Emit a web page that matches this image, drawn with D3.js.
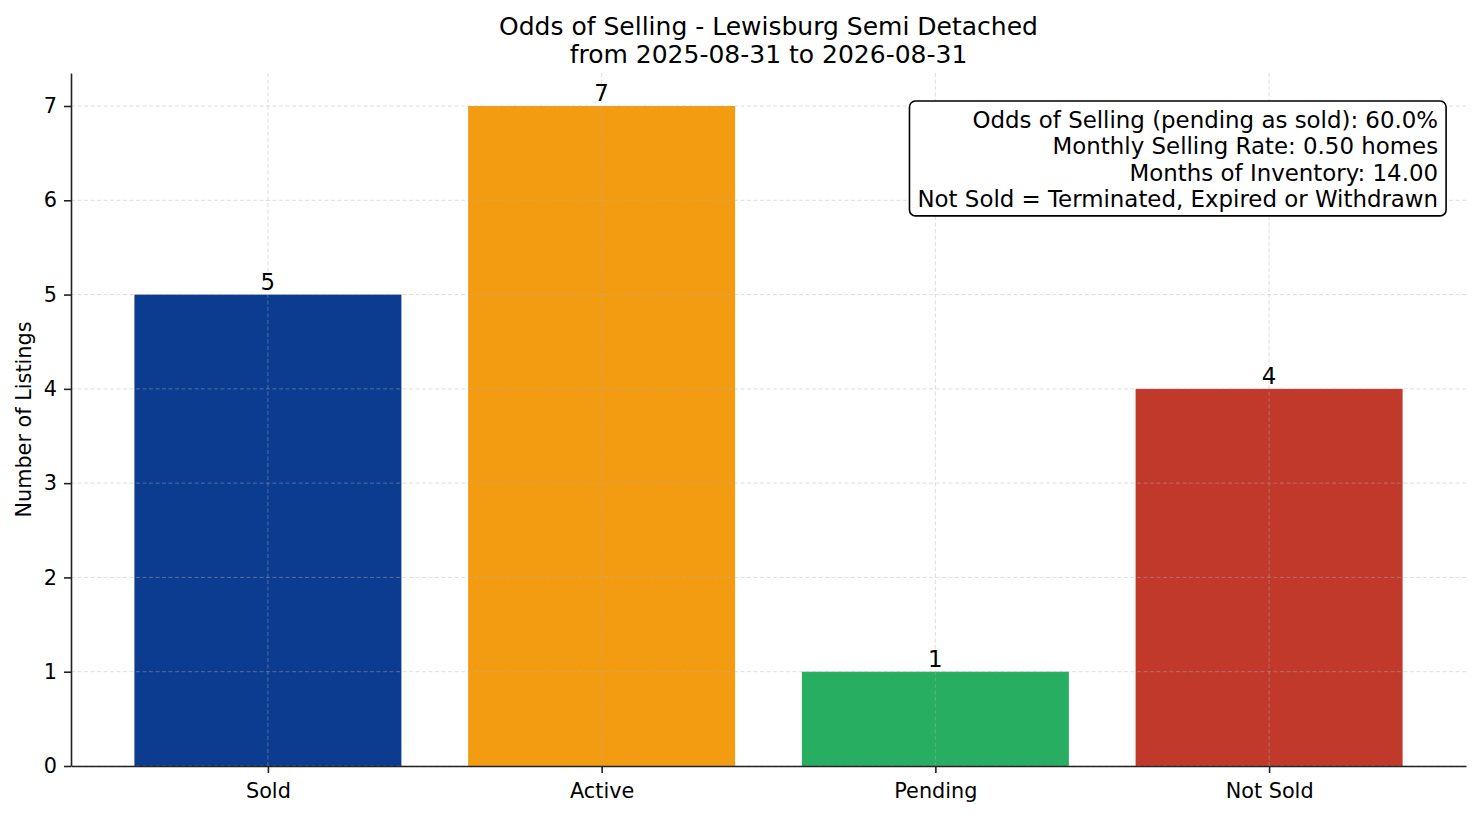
<!DOCTYPE html>
<html>
<head>
<meta charset="utf-8">
<script src="https://cdn.jsdelivr.net/npm/d3@7"></script>
<style>
  body { margin: 0; background: #fff; }
  svg { display: block; font-family: 'DejaVu Sans', sans-serif; }
</style>
</head>
<body>
<div id="chartarea"></div>
<script>
// chart data
const categories = ['Sold', 'Active', 'Pending', 'Not Sold'];
const counts = [5, 7, 1, 4];
const barColors = ['#0b3c8f', '#f39c12', '#27ae60', '#c0392b'];
const yTicks = [0, 1, 2, 3, 4, 5, 6, 7];
const titleLines = ['Odds of Selling - Lewisburg Semi Detached', 'from 2025-08-31 to 2026-08-31'];
const infoLines = [
    'Odds of Selling (pending as sold): 60.0%',
    'Monthly Selling Rate: 0.50 homes',
    'Months of Inventory: 14.00',
    'Not Sold = Terminated, Expired or Withdrawn'
];

const W = 1481, H = 816;
const margin = { top: 73, right: 15, bottom: 50, left: 71 };
const width = W - margin.left - margin.right;
const height = H - margin.top - margin.bottom;

const svg = d3.select('#chartarea')
    .append('svg')
        .attr('width', W)
        .attr('height', H);

const group = svg.append('g')
    .attr('transform', `translate(${margin.left}, ${margin.top})`);

// x is positional index like matplotlib, bars 0.8 wide with 5% margins
const x = d3.scaleLinear()
    .domain([-0.59, categories.length - 1 + 0.59])
    .range([0, width]);
const barW = x(0.8) - x(0);

const y = d3.scaleLinear()
    .domain([0, 7.35])
    .range([height, 0]);

// bars
group.selectAll('rect.bar')
    .data(categories)
    .enter()
    .append('rect')
    .attr('class', 'bar')
    .attr('x', (d, i) => x(i) - barW / 2)
    .attr('y', (d, i) => y(counts[i]))
    .attr('width', barW)
    .attr('height', (d, i) => height - y(counts[i]))
    .attr('fill', (d, i) => barColors[i]);

// grid (drawn over bars, like the original)
const grid = group.append('g')
    .attr('stroke', '#b0b0b0')
    .attr('stroke-opacity', 0.55)
    .attr('stroke-width', 0.8)
    .attr('stroke-dasharray', '4,2.5');
grid.selectAll('line.hg')
    .data(yTicks)
    .enter()
    .append('line')
    .attr('x1', 0)
    .attr('x2', width)
    .attr('y1', d => y(d))
    .attr('y2', d => y(d));
grid.selectAll('line.vg')
    .data(categories)
    .enter()
    .append('line')
    .attr('x1', (d, i) => x(i))
    .attr('x2', (d, i) => x(i))
    .attr('y1', 0)
    .attr('y2', height);

// value labels
group.selectAll('text.val')
    .data(categories)
    .enter()
    .append('text')
    .attr('class', 'val')
    .attr('x', (d, i) => x(i))
    .attr('y', (d, i) => y(counts[i]) - 5)
    .attr('text-anchor', 'middle')
    .attr('font-size', '22.9px')
    .attr('fill', '#000')
    .text((d, i) => counts[i]);

// axes
const xAxis = d3.axisBottom(x)
    .tickValues(d3.range(categories.length))
    .tickFormat(i => categories[i])
    .tickSizeOuter(0)
    .tickSizeInner(7)
    .tickPadding(10);
const gx = group.append('g')
    .attr('transform', `translate(0, ${height})`)
    .call(xAxis);

const yAxis = d3.axisLeft(y)
    .tickValues(yTicks)
    .tickFormat(d3.format('d'))
    .tickSizeOuter(0)
    .tickSizeInner(7)
    .tickPadding(7);
const gy = group.append('g')
    .call(yAxis);

[gx, gy].forEach(g => {
    g.selectAll('.domain').attr('stroke', '#222').attr('stroke-width', 1.6);
    g.selectAll('.tick line').attr('stroke', '#222').attr('stroke-width', 1.6);
    g.selectAll('.tick text')
        .attr('font-family', 'DejaVu Sans')
        .attr('font-size', '20.8px')
        .attr('fill', '#000');
});

// y label
group.append('text')
    .attr('transform', 'rotate(-90)')
    .attr('x', -height / 2)
    .attr('y', -40)
    .attr('text-anchor', 'middle')
    .attr('font-size', '20.8px')
    .attr('fill', '#000')
    .text('Number of Listings');

// title
svg.append('g')
    .selectAll('text')
    .data(titleLines)
    .enter()
    .append('text')
    .attr('x', margin.left + width / 2)
    .attr('y', (d, i) => 35 + i * 28)
    .attr('text-anchor', 'middle')
    .attr('font-size', '25px')
    .attr('fill', '#000')
    .text(d => d);

// info box
const box = group.append('g');
const boxText = box.append('text')
    .attr('text-anchor', 'end')
    .attr('font-size', '22.9px')
    .attr('fill', '#000');
boxText.selectAll('tspan')
    .data(infoLines)
    .enter()
    .append('tspan')
    .attr('x', width * 0.98)
    .attr('y', (d, i) => 55 + i * 26.3)
    .text(d => d);
const bb = boxText.node().getBBox();
box.insert('rect', 'text')
    .attr('x', bb.x - 8)
    .attr('y', bb.y - 6)
    .attr('width', bb.width + 16)
    .attr('height', bb.height + 10)
    .attr('rx', 6)
    .attr('fill', '#fff')
    .attr('stroke', '#000')
    .attr('stroke-width', 1.6);
</script>
</body>
</html>
